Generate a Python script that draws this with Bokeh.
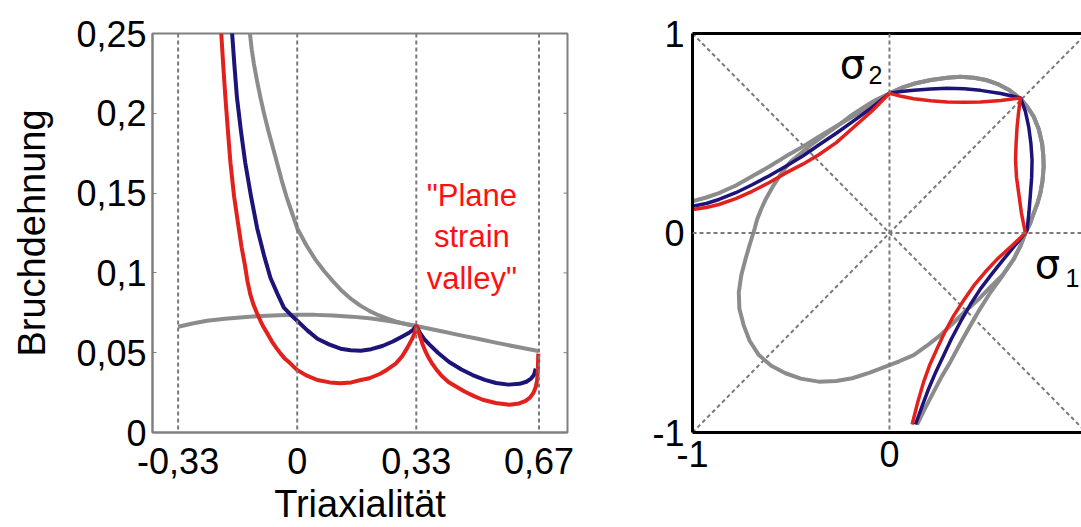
from bokeh.plotting import figure
from bokeh.layouts import row
from bokeh.models import Range1d, FixedTicker, CustomJSTickFormatter, LinearAxis, Span
from bokeh.core.properties import value
from bokeh.embed import file_html
from bokeh.resources import INLINE
import math

# ---------------- data: left panel (fracture strain vs. triaxiality) ----------------
triax_ticks = [-0.33, 0.0, 0.33, 0.67]
strain_ticks = [0.0, 0.05, 0.1, 0.15, 0.2, 0.25]

gray_flat_x = [-0.33, -0.29, -0.25, -0.2, -0.15, -0.1, -0.05, 0.0, 0.05, 0.1, 0.15, 0.2, 0.25, 0.29, 0.33,
               0.4, 0.45, 0.5, 0.55, 0.6, 0.668]
gray_flat_y = [0.0663, 0.0683, 0.0700, 0.0713, 0.0722, 0.0730, 0.0735, 0.0738, 0.0737, 0.0733, 0.0726, 0.0716,
               0.0700, 0.0685, 0.0667, 0.0634, 0.0610, 0.0587, 0.0563, 0.0540, 0.0511]

gray_steep_x = [-0.132, -0.126, -0.12, -0.111, -0.102, -0.091, -0.08, -0.068, -0.056, -0.043, -0.03, -0.015,
                0.0, 0.025, 0.05, 0.075, 0.1, 0.125, 0.15, 0.175, 0.2, 0.225, 0.25, 0.275, 0.3, 0.33]
gray_steep_y = [0.252, 0.240, 0.231, 0.220, 0.210, 0.199, 0.189, 0.179, 0.169, 0.158, 0.148, 0.138,
                0.128, 0.1175, 0.1085, 0.101, 0.0945, 0.0885, 0.0835, 0.0795, 0.0762, 0.0735, 0.0713, 0.0695,
                0.068, 0.0667]

blue_x = [-0.181, -0.174, -0.167, -0.156, -0.144, -0.128, -0.111, -0.092, -0.074, -0.055, -0.037, -0.018,
          0.0, 0.028, 0.056, 0.088, 0.12, 0.148, 0.176, 0.205, 0.236, 0.265, 0.29, 0.31, 0.322, 0.33,
          0.34, 0.352, 0.366, 0.39, 0.421, 0.455, 0.486, 0.52, 0.551, 0.585, 0.616, 0.635, 0.648, 0.656, 0.661]
blue_y = [0.252, 0.230, 0.210, 0.189, 0.169, 0.148, 0.128, 0.111, 0.0968, 0.087, 0.0783, 0.0738,
          0.070, 0.064, 0.0587, 0.0552, 0.0525, 0.0515, 0.0512, 0.0522, 0.0542, 0.057, 0.060, 0.0625, 0.0645,
          0.0667, 0.0625, 0.0585, 0.0552, 0.050, 0.0442, 0.0395, 0.036, 0.0330, 0.0310, 0.0300, 0.0305,
          0.0318, 0.0338, 0.036, 0.040]

red_x = [-0.211, -0.205, -0.199, -0.192, -0.185, -0.175, -0.162, -0.154, -0.145, -0.138, -0.130, -0.121,
         -0.112, -0.102, -0.093, -0.08, -0.07, -0.058, -0.046, -0.033, -0.02, 0.0, 0.025, 0.056, 0.09, 0.12,
         0.15, 0.176, 0.20, 0.23, 0.25, 0.273, 0.29, 0.305, 0.318, 0.327, 0.33,
         0.338, 0.347, 0.356, 0.365, 0.375, 0.384, 0.40, 0.42, 0.44, 0.465, 0.49, 0.514, 0.55, 0.588,
         0.615, 0.633, 0.645, 0.655, 0.661, 0.665, 0.667, 0.668]
red_y = [0.252, 0.230, 0.210, 0.189, 0.169, 0.148, 0.128, 0.116, 0.105, 0.095, 0.0865, 0.080,
         0.075, 0.070, 0.0659, 0.061, 0.057, 0.053, 0.0494, 0.046, 0.0435, 0.0391, 0.0358, 0.0329, 0.0314, 0.0308,
         0.0314, 0.0329, 0.0340, 0.0368, 0.0395, 0.0432, 0.0475, 0.053, 0.0585, 0.063, 0.0667,
         0.062, 0.0555, 0.0505, 0.0465, 0.0428, 0.040, 0.0355, 0.0315, 0.0288, 0.0255, 0.0228, 0.0205, 0.0185, 0.0174,
         0.0182, 0.0198, 0.0218, 0.025, 0.0285, 0.033, 0.040, 0.0494]

note_lines = ['"Plane', 'strain', 'valley"']
note_y = [0.1482, 0.1228, 0.0968]

# ---------------- data: right panel (loci in principal stress plane) ----------------
sig_ticks = [-1, 0, 1]
diag_x = [-1, 1]
diag_up_y = [-1, 1]
diag_down_y = [1, -1]

ell_x = [0.69, 0.715, 0.733, 0.752, 0.766, 0.777, 0.783, 0.781, 0.775, 0.758, 0.733, 0.70, 0.665, 0.61,
         0.547, 0.49, 0.428, 0.36, 0.293, 0.21, 0.123, 0.06, 0.0, -0.07, -0.13, -0.2, -0.26, -0.33, -0.40,
         -0.45, -0.50, -0.53, -0.559, -0.595, -0.629, -0.652, -0.672, -0.685, -0.71, -0.731, -0.752, -0.765,
         -0.762, -0.74, -0.71, -0.663, -0.60, -0.528, -0.45, -0.359, -0.27, -0.189, -0.10, -0.02, 0.05, 0.123,
         0.19, 0.259, 0.32, 0.376, 0.45, 0.513, 0.575, 0.631, 0.665, 0.69]
ell_y = [0.0, 0.05, 0.101, 0.15, 0.20, 0.26, 0.333, 0.39, 0.449, 0.52, 0.582, 0.633, 0.673, 0.715,
         0.748, 0.767, 0.778, 0.783, 0.778, 0.767, 0.748, 0.727, 0.70, 0.667, 0.63, 0.585, 0.54, 0.49, 0.44,
         0.40, 0.36, 0.325, 0.284, 0.228, 0.168, 0.118, 0.068, 0.02, -0.06, -0.131, -0.21, -0.297,
         -0.38, -0.463, -0.54, -0.612, -0.665, -0.703, -0.73, -0.745, -0.742, -0.728, -0.70, -0.67, -0.643, -0.612,
         -0.565, -0.512, -0.455, -0.40, -0.335, -0.27, -0.21, -0.131, -0.065, 0.0]

gray_open_x = [-1.0, -0.93, -0.866, -0.78, -0.697, -0.61, -0.528, -0.44, -0.359, -0.27, -0.189, -0.09, 0.0,
               0.06, 0.123, 0.21, 0.293, 0.36, 0.428, 0.49, 0.547, 0.61, 0.665, 0.70, 0.733, 0.758, 0.775,
               0.781, 0.783, 0.777, 0.766, 0.752, 0.733, 0.715, 0.69, 0.665, 0.631, 0.575, 0.513, 0.46, 0.411,
               0.36, 0.31, 0.265, 0.225, 0.18, 0.14]
gray_open_y = [0.159, 0.178, 0.2, 0.238, 0.284, 0.333, 0.383, 0.433, 0.483, 0.535, 0.582, 0.643, 0.70,
               0.727, 0.748, 0.767, 0.778, 0.783, 0.778, 0.767, 0.748, 0.715, 0.673, 0.633, 0.582, 0.52, 0.449,
               0.39, 0.333, 0.26, 0.20, 0.15, 0.101, 0.05, 0.0, -0.065, -0.131, -0.213, -0.297, -0.38, -0.463,
               -0.553, -0.645, -0.72, -0.795, -0.88, -0.96]

blue_s_x = [-1.0, -0.93, -0.866, -0.78, -0.697, -0.61, -0.528, -0.44, -0.359, -0.27, -0.189, -0.09, 0.0,
            0.06, 0.123, 0.21, 0.293, 0.38, 0.462, 0.565, 0.665, 0.69, 0.707, 0.718, 0.724, 0.722, 0.716,
            0.708, 0.699, 0.69, 0.635, 0.58, 0.52, 0.462, 0.41, 0.36, 0.315, 0.276, 0.236, 0.2, 0.165, 0.132]
blue_s_y = [0.134, 0.148, 0.168, 0.202, 0.242, 0.287, 0.333, 0.386, 0.441, 0.50, 0.557, 0.628, 0.70,
            0.709, 0.715, 0.722, 0.726, 0.723, 0.715, 0.699, 0.677, 0.61, 0.532, 0.45, 0.367, 0.28, 0.2,
            0.10, 0.018, 0.0, -0.065, -0.131, -0.205, -0.28, -0.36, -0.446, -0.53, -0.612, -0.695, -0.778,
            -0.87, -0.96]

red_s_x = [-1.0, -0.93, -0.866, -0.78, -0.697, -0.61, -0.528, -0.44, -0.359, -0.27, -0.189, -0.09, 0.0,
           0.06, 0.123, 0.21, 0.293, 0.38, 0.462, 0.565, 0.665, 0.655, 0.648, 0.643, 0.640, 0.645, 0.656,
           0.67, 0.69, 0.62, 0.547, 0.485, 0.428, 0.375, 0.327, 0.282, 0.242, 0.205, 0.174, 0.143, 0.115]
red_s_y = [0.118, 0.128, 0.143, 0.172, 0.209, 0.253, 0.300, 0.345, 0.392, 0.453, 0.524, 0.61, 0.70,
           0.685, 0.673, 0.663, 0.657, 0.656, 0.657, 0.664, 0.677, 0.60, 0.532, 0.45, 0.367, 0.28, 0.2,
           0.10, 0.0, -0.065, -0.131, -0.197, -0.264, -0.34, -0.413, -0.495, -0.579, -0.66, -0.745, -0.85, -0.96]

# ---------------- styles ----------------
FONT = "Liberation Sans"
GRAY = "#8c8c8c"
BLUE = "#1c1478"
RED = "#e3211c"
DASH = "#7a7a7a"
FRAME = "#808080"
LW = 4

fmt = CustomJSTickFormatter(code="return String(tick).replace('.', ',')")

# ---------------- left figure ----------------
left = figure(width=600, height=527, x_range=Range1d(-0.401, 0.749), y_range=Range1d(0, 0.25),
              output_backend="svg", toolbar_location=None,
              min_border_left=152, min_border_right=33, min_border_top=33, min_border_bottom=90)
left.grid.visible = False
left.outline_line_color = FRAME
left.outline_line_width = 2
left.background_fill_color = "white"
left.border_fill_color = "white"

xa = left.xaxis[0]
xa.ticker = FixedTicker(ticks=triax_ticks)
xa.formatter = fmt
xa.axis_label = "Triaxialität"
xa.axis_label_text_font = FONT
xa.axis_label_text_font_size = "38px"
xa.axis_label_text_font_style = "normal"
xa.axis_label_text_color = "black"
xa.axis_label_standoff = 6
xa.major_label_text_font = FONT
xa.major_label_text_font_size = "36px"
xa.major_label_text_color = "black"
xa.major_label_standoff = 15
xa.major_tick_in = 0
xa.major_tick_out = 0
xa.minor_tick_in = 0
xa.minor_tick_out = 0
xa.axis_line_color = FRAME
xa.axis_line_width = 2

ya = left.yaxis[0]
ya.ticker = FixedTicker(ticks=strain_ticks)
ya.formatter = fmt
ya.axis_label = "Bruchdehnung"
ya.axis_label_text_font = FONT
ya.axis_label_text_font_size = "38px"
ya.axis_label_text_font_style = "normal"
ya.axis_label_text_color = "black"
ya.axis_label_standoff = 20
ya.major_label_text_font = FONT
ya.major_label_text_font_size = "36px"
ya.major_label_text_color = "black"
ya.major_label_standoff = 6
ya.major_tick_in = 4
ya.major_tick_out = 0
ya.minor_tick_in = 0
ya.minor_tick_out = 0
ya.major_tick_line_color = FRAME
ya.axis_line_color = FRAME
ya.axis_line_width = 2

# inward ticks on the right frame edge
left.ray(x=[0.749] * len(strain_ticks), y=strain_ticks, length=4, length_units="screen",
         angle=math.pi, line_color=FRAME, line_width=1)

for v in triax_ticks:
    left.add_layout(Span(location=v, dimension="height", line_color=DASH, line_width=2, line_dash="4 3"))

left.line(gray_flat_x, gray_flat_y, line_color=GRAY, line_width=LW, line_join="round")
left.line(gray_steep_x, gray_steep_y, line_color=GRAY, line_width=LW, line_join="round")
left.line(blue_x, blue_y, line_color=BLUE, line_width=LW, line_join="round")
left.line(red_x, red_y, line_color=RED, line_width=LW, line_join="round")

left.text(x=[0.484] * 3, y=note_y, text=note_lines, text_color="#ff1010",
          text_font=value(FONT), text_font_size="31px", text_align="center", text_baseline="alphabetic")

# ---------------- right figure ----------------
right = figure(width=481, height=527, x_range=Range1d(-1.0, 0.975), y_range=Range1d(-1.0, 1.0),
               output_backend="svg", toolbar_location=None,
               min_border_left=92, min_border_right=0, min_border_top=31, min_border_bottom=94)
right.grid.visible = False
right.outline_line_color = None
right.background_fill_color = "white"
right.border_fill_color = "white"

for ax in (right.xaxis[0], right.yaxis[0]):
    ax.ticker = FixedTicker(ticks=sig_ticks)
    ax.formatter = fmt
    ax.major_label_text_font = FONT
    ax.major_label_text_font_size = "36px"
    ax.major_label_text_color = "black"
    ax.major_tick_in = 0
    ax.major_tick_out = 0
    ax.minor_tick_in = 0
    ax.minor_tick_out = 0
    ax.axis_line_color = "black"
    ax.axis_line_width = 3
right.xaxis[0].major_label_standoff = 8
right.yaxis[0].major_label_standoff = 8

ta = LinearAxis(ticker=FixedTicker(ticks=[]), major_tick_in=0, major_tick_out=0,
                minor_tick_in=0, minor_tick_out=0, axis_line_color="black", axis_line_width=3)
right.add_layout(ta, "above")

right.add_layout(Span(location=0, dimension="height", line_color=DASH, line_width=2, line_dash="4 3"))
right.add_layout(Span(location=0, dimension="width", line_color=DASH, line_width=2, line_dash="4 3"))
right.line(diag_x, diag_up_y, line_color=DASH, line_width=2, line_dash="4 3")
right.line(diag_x, diag_down_y, line_color=DASH, line_width=2, line_dash="4 3")

right.line(ell_x, ell_y, line_color=GRAY, line_width=LW, line_join="round")
right.line(gray_open_x, gray_open_y, line_color=GRAY, line_width=LW, line_join="round")
right.line(blue_s_x, blue_s_y, line_color=BLUE, line_width=3.5, line_join="round")
right.line(red_s_x, red_s_y, line_color=RED, line_width=3.5, line_join="round")

right.text(x=[-0.188, 0.802], y=[0.846, -0.154], text=["σ", "σ"], text_color="black",
           text_font=value("DejaVu Sans"), text_font_size="40px", text_align="center", text_baseline="alphabetic")
right.text(x=[-0.071, 0.929], y=[0.791, -0.224], text=["2", "1"], text_color="black",
           text_font=value(FONT), text_font_size="25px", text_align="center", text_baseline="alphabetic")

layout = row(left, right)
open("out.html", "w").write(file_html(layout, INLINE))
